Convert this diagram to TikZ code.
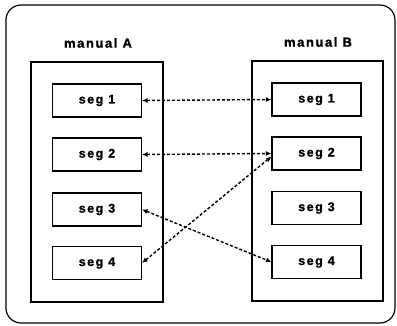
\documentclass[tikz,border=0pt]{standalone}
\usepackage{fontspec}
\setmainfont{Liberation Sans}[LetterSpace=12, BoldFeatures={FakeBold=1.2}]
\usetikzlibrary{arrows.meta}
\tikzset{
  segbox/.style={draw, line width=1.1pt, minimum width=89pt, minimum height=33pt, inner sep=0pt, font=\bfseries\fontsize{12.5}{14}\selectfont},
  panel/.style={draw, line width=1.1pt},
  title/.style={font=\bfseries\fontsize{13}{15}\selectfont, inner sep=0pt},
  link/.style={line width=1.4pt, dash pattern=on 3pt off 2pt, {Latex[length=5.5pt,width=5pt]}-{Latex[length=5.5pt,width=5pt]}}
}
\begin{document}
\begin{tikzpicture}[x=1pt,y=-1pt]
\useasboundingbox (0,0) rectangle (397,325);
\draw[line width=1.2pt, rounded corners=15pt] (6,5) rectangle (395,323);
\draw[panel] (31,62) rectangle (163,302);
\draw[panel] (252,61) rectangle (383,301);
\node[title] (tA) at (98,43) {manual A};
\node[title] (tB) at (318,42) {manual B};
\node[segbox] (a1) at (97,100.5) {seg 1};
\node[segbox] (a2) at (97,154.5) {seg 2};
\node[segbox] (a3) at (97,209.5) {seg 3};
\node[segbox] (a4) at (97,263) {seg 4};
\node[segbox] (b1) at (316.5,99.5) {seg 1};
\node[segbox] (b2) at (316.5,153.5) {seg 2};
\node[segbox] (b3) at (316.5,208) {seg 3};
\node[segbox] (b4) at (316.5,262) {seg 4};
\draw[link] (a1.east) -- (b1.west);
\draw[link] (a2.east) -- (b2.west);
\draw[link] (a4.east) -- ([yshift=-3pt]b2.west);
\draw[link] (a3.east) -- (b4.west);
\end{tikzpicture}
\end{document}
